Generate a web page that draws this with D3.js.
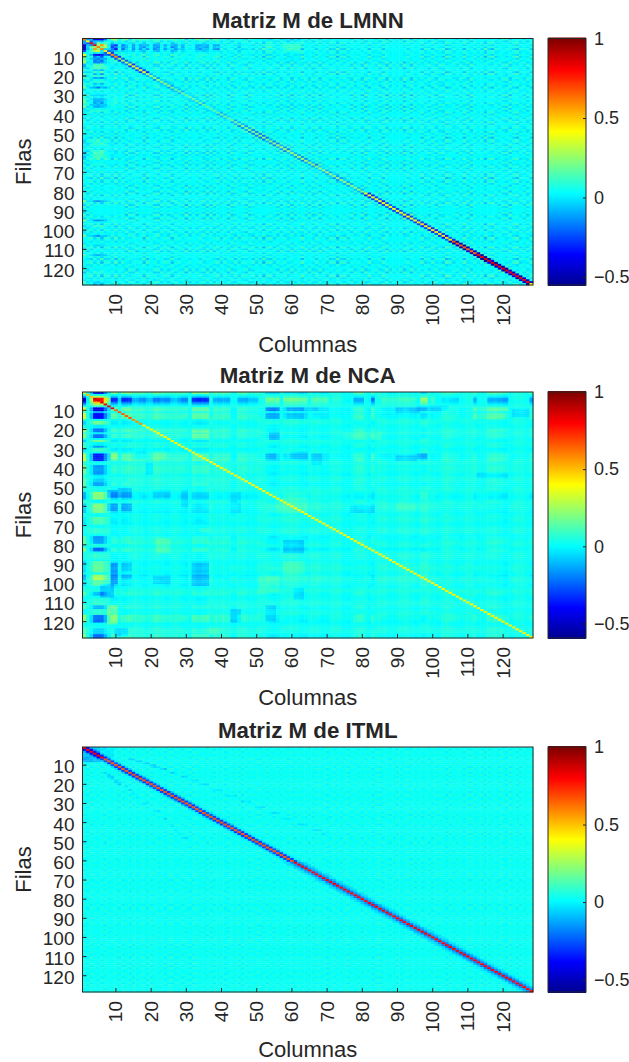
<!DOCTYPE html>
<html>
<head>
<meta charset="utf-8">
<script src="https://cdn.jsdelivr.net/npm/d3@7"></script>
<style>
	html, body { margin: 0; padding: 0; background: #fff; }
	svg { display: block; }
	text { font-family: "Liberation Sans", Arial, sans-serif; fill: #262626; }
</style>
</head>
<body>
<script>
// matrix is 128 x 128. diagonals, bands, weights, patches and streaks are rough estimates from the picture.
// the *Grain lists are hand typed texture: they copy the strength of the speckle, not the single cells.
const indices = d3.range(1, 129);
const axisTicks = [10, 20, 30, 40, 50, 60, 70, 80, 90, 100, 110, 120];
const colorTicks = [-0.5, 0, 0.5, 1];

// runs are [from, to, value]
const lmnnDiag = [[1,1,.62],[2,2,.42],[3,4,.85],[5,6,.62],[7,8,.45],[9,10,.6],[11,13,.28],[14,18,.38],[19,25,.24],[26,45,.18],[46,55,.22],[56,66,.26],[67,80,.24],[81,95,.4],[96,105,.46],[106,112,.66],[113,127,.84],[128,128,.42]];
const lmnnNear1 = [[1,18,-.26],[19,30,-.1],[31,45,-.08],[46,66,-.16],[67,80,-.1],[81,105,-.3],[106,128,-.5]];
const lmnnNear2 = [[46,66,.05],[81,128,.04]];
const lmnnRowWeight = [[1,1,-.6],[2,2,-.1],[3,3,.2],[4,6,.7],[7,7,.4],[9,9,-.55],[10,10,-.2],[11,13,-.25],[14,14,.1],[15,16,.15],[17,17,-.1],[18,18,.1],[19,19,-.1],[20,20,.1],[21,21,-.2],[23,23,.1],[24,24,-.1],[26,26,-.25],[27,27,.05],[30,30,-.1],[32,36,-.16],[38,38,.1],[53,56,.08],[59,63,.12],[66,66,.06],[85,85,-.2],[95,95,-.22],[98,98,.08],[103,103,-.2],[108,108,-.08],[113,113,-.16],[122,122,.06],[127,128,-.08]];
const lmnnColWeight = [[1,1,-.65],[2,2,-.1],[3,3,.15],[4,6,.7],[7,7,.35],[9,10,-.36],[12,12,-.25],[13,13,-.12],[15,15,-.22],[17,18,-.18],[19,19,-.1],[21,22,-.22],[24,24,-.15],[26,27,-.2],[29,29,-.15],[33,36,-.16],[38,39,-.15],[45,45,-.1],[53,54,.08],[58,62,.1]];
const lmnnRowGrain = [
	2,-1,3,-2,1,-3,2,1,-2,3,-1,2,-3,1,2,-2,
	1,-3,2,-1,3,1,-2,2,-1,-3,2,1,-2,3,-1,1,
	-2,2,1,-3,2,-1,3,-2,1,2,-3,1,-1,2,3,-2,
	1,-1,2,-3,1,3,-2,-1,2,1,-3,2,-1,1,3,-2,
	2,-3,1,2,-1,-2,3,1,-3,2,1,-1,3,-2,1,2,
	-3,2,-1,1,-3,2,3,-2,1,-1,2,-3,1,3,-2,1,
	2,-1,-3,2,1,-2,-3,3,1,-1,2,-2,3,1,-3,2,
	-1,1,-3,2,3,-2,1,-1,-3,2,1,3,-2,1,-3,2
];
const lmnnColGrain = [
	-2,3,1,-1,2,-3,1,2,-1,3,-2,1,2,-3,-1,3,
	1,-2,3,1,-1,-3,2,1,3,-2,-1,2,1,-3,3,-1,
	2,1,-3,2,-2,3,1,-1,2,-3,1,3,-2,1,-1,2,
	3,-2,1,-3,2,1,-1,3,-2,2,1,-3,2,-1,3,1,
	-2,1,3,-3,2,-1,1,2,-3,1,3,-2,-1,2,1,-3,
	2,3,-1,-2,1,3,-3,2,-1,1,-2,3,2,-3,1,-1,
	3,-2,1,2,-3,1,-1,3,2,-2,-1,1,3,-3,2,1,
	-1,2,-3,1,3,-1,-2,2,1,-3,2,3,-1,-2,1,2
];

const ncaDiag = [[1,1,.3],[2,3,.5],[4,9,.85],[10,14,.66],[15,17,.58],[18,128,.42]];
const ncaRowWeight = [[1,1,-.5],[3,3,.3],[4,5,.95],[6,6,.6],[7,7,.3],[8,8,.05],[9,10,-.55],[11,11,-.15],[12,14,-.5],[15,15,-.02],[16,17,.18],[18,19,-.05],[20,21,-.3],[22,22,-.05],[23,24,-.3],[26,26,.2],[27,28,-.05],[29,29,-.2],[30,31,.1],[33,36,-.45],[37,38,-.02],[39,43,-.22],[44,45,-.05],[46,47,-.12],[48,49,-.2],[53,56,.25],[57,58,-.03],[59,63,.2],[66,69,.12],[72,74,.05],[76,79,-.2],[80,81,.02],[82,83,-.3],[85,87,.05],[89,94,.15],[96,98,.28],[99,99,.1],[100,101,.15],[105,106,-.15],[108,111,.05],[112,113,-.15],[114,116,.05],[117,120,-.3],[124,126,-.12],[127,128,-.3]];
const ncaColWeight = [[1,1,-.55],[2,2,-.05],[3,3,.25],[4,6,.8],[7,7,.45],[8,8,.15],[9,10,-.36],[11,11,-.08],[12,14,-.36],[15,16,-.16],[17,18,-.2],[19,20,-.12],[21,22,-.25],[23,25,-.2],[26,27,-.12],[28,28,-.16],[29,30,-.2],[32,36,-.36],[38,42,-.16],[45,47,-.16],[48,50,-.1],[53,56,.16],[58,64,.14],[66,70,.1],[72,74,.03],[78,80,-.16],[83,83,-.24],[86,95,.06],[97,98,.2],[100,100,.08],[103,107,-.07],[112,112,-.15],[116,121,-.16],[128,128,-.16]];
// [rowFrom, rowTo, colFrom, colTo, value]
const ncaPatches = [
	[21,25,32,36,.06],[32,35,21,24,.05],[32,35,9,10,.09],[32,35,16,18,-.05],[38,43,19,20,-.06],
	[52,55,8,10,-.13],[51,55,11,14,-.1],[59,62,8,10,-.12],[59,62,12,14,-.1],[52,55,21,25,-.05],
	[52,60,29,30,-.05],[53,63,43,45,-.05],[22,25,54,56,-.08],[32,35,60,64,-.06],[33,35,53,55,-.06],
	[9,10,53,56,-.13],[9,10,59,63,-.1],[12,14,53,56,-.08],[12,14,59,63,-.06],[56,63,56,64,.04],
	[90,100,9,10,-.13],[101,107,6,9,-.1],[90,93,12,14,-.06],[96,97,12,14,-.06],[97,100,21,25,-.06],
	[90,101,32,36,-.06],[77,84,22,25,.06],[72,73,34,36,.05],[78,84,58,63,-.08],[114,120,43,45,-.08],
	[112,119,53,55,-.05],[112,121,8,10,.12],[124,127,10,13,-.09],[97,105,51,56,.04],[89,95,58,63,.04],
	[103,108,61,63,-.06],[124,126,37,39,.05],
	[9,11,90,96,-.06],[8,10,96,104,-.06],[9,10,112,121,.06],[12,14,112,120,.05],[10,13,123,127,-.05],
	[9,10,65,67,-.05],[22,25,75,85,.04],[34,36,90,95,-.06],[33,35,96,98,-.09],[33,38,66,68,-.06],
	[43,45,113,121,-.05],[60,63,77,83,-.05],[59,62,90,95,.03]
];
const ncaRowGrain = [
	1,1,0,0,-1,-1,0,1,-2,-2,-1,-2,-1,0,1,1,
	0,-1,-1,0,1,1,0,-1,-1,0,1,0,-1,-2,-1,0,
	-2,-2,-1,0,1,1,0,1,1,0,-1,-1,1,1,0,-1,
	-1,0,1,1,0,-1,-2,-1,0,1,1,2,1,0,-1,-1,
	0,1,1,0,-1,-1,0,1,1,0,-2,-2,-1,0,1,1,
	0,-2,-1,0,1,1,0,-1,-1,0,1,2,1,0,-1,-1,
	1,2,1,0,-1,-1,1,2,1,0,-1,-1,0,1,1,0,
	-1,-1,0,1,1,1,0,-1,-2,-1,0,1,1,0,-1,-1
];
const ncaColGrain = [
	2,2,1,2,2,1,1,1,1,2,2,1,1,2,2,1,
	1,2,1,1,2,2,1,2,2,1,1,2,2,1,1,2,
	1,1,2,2,2,1,1,2,1,1,2,2,1,2,2,1,
	1,2,2,1,1,2,2,1,2,2,1,1,2,1,1,2,
	2,1,2,2,1,1,2,1,2,2,1,2,1,1,2,2,
	1,2,1,1,2,2,2,1,1,2,2,1,1,2,2,2,
	1,1,2,1,2,2,1,1,2,2,1,2,2,1,1,2,
	2,1,1,2,2,1,2,2,1,1,2,2,1,1,1,2
];

const itmlDiag = [[1,6,.8],[7,60,.67],[61,128,.8]];
const itmlNear1 = [[1,60,-.3],[61,128,-.2]];
const itmlNear2 = [[1,60,-.06],[61,128,-.09]];
const itmlNear3 = [[61,128,-.04]];
const itmlPatches = [[1,8,1,5,-.1],[1,6,6,9,-.04],[6,8,1,3,-.03]];
// faint slanted streaks in the upper left part, [row, colFrom, colTo, value]
const itmlUpperStreak = [[7,14,15,-.07],[8,16,17,-.07],[9,18,19,-.07],[10,20,21,-.07],[11,21,22,-.07],[12,23,24,-.07],[14,26,27,-.06],[16,29,30,-.06],[18,32,33,-.06],[20,34,36,-.06],[23,38,40,-.05],[26,42,44,-.05],[29,46,48,-.05],[32,50,52,-.05],[35,54,56,-.05],[38,58,60,-.05],[41,62,64,-.05],[44,66,68,-.05],[46,69,70,-.05]];
const itmlLowerStreak = [[14,7,7,-.07],[15,8,8,-.07],[16,8,9,-.07],[17,9,9,-.07],[18,10,10,-.07],[19,10,11,-.07],[20,11,11,-.07],[21,13,13,-.06],[23,14,14,-.06],[25,15,15,-.06],[27,16,16,-.06],[30,18,19,-.05],[34,21,22,-.05],[38,24,24,-.05],[42,26,26,-.05],[44,27,27,-.05],[46,28,28,-.05],[48,29,30,-.05]];
const itmlRowGrain = [
	1,-1,1,0,-1,1,1,-1,0,1,-1,1,0,-1,1,-1,
	0,1,-1,1,1,-1,0,-1,1,1,-1,0,1,-1,-1,1,
	1,0,-1,1,-1,1,0,1,-1,-1,1,0,1,-1,1,-1,
	0,1,1,-1,1,0,-1,1,-1,0,1,1,-1,1,0,-1,
	1,-1,1,0,1,-1,-1,1,0,-1,1,1,-1,0,1,-1,
	1,0,-1,1,1,-1,0,1,-1,1,-1,0,1,1,-1,1,
	-1,0,1,-1,1,1,0,-1,1,-1,1,0,-1,1,1,-1,
	0,1,-1,1,0,-1,1,1,-1,1,0,-1,1,-1,1,0
];
const itmlColGrain = [
	-2,-2,2,1,-1,2,-2,1,2,-1,-2,2,1,-2,2,-1,
	2,1,-2,2,-1,1,2,-2,1,2,-1,-2,2,1,-2,2,
	-1,2,1,-2,2,2,-1,1,-2,2,1,-1,2,-2,1,2,
	2,-1,-2,1,2,-2,2,1,-1,2,-2,1,2,-1,2,1,
	-2,2,1,2,-1,-2,2,1,-2,2,-1,2,1,-2,1,2,
	-1,2,-2,1,2,2,-1,-2,1,2,-1,2,1,-2,2,-1,
	2,1,-2,2,1,-1,2,-2,2,1,-1,2,-2,1,2,-1,
	1,2,-2,2,-1,1,2,-1,-2,2,1,-2,2,1,-1,2
];

const jetStops = ['#00008f', '#0000ff', '#00ffff', '#80ff80', '#ffff00', '#ff0000', '#800000'];
const jetPlaces = [0, 0.125, 0.375, 0.5, 0.625, 0.875, 1];

// fills a 128 long list from runs
function expand(runs) {
	const out = new Array(129).fill(0);
	runs.forEach(([from, to, v]) => {
		for (let i = from; i <= to; i++) out[i] = v;
	});
	return out;
}

function buildMatrix(p) {
	const rw = expand(p.rowWeight || []);
	const cw = expand(p.colWeight || []);
	const diag = expand(p.diag);
	const near = [null, expand(p.near1 || []), expand(p.near2 || []), expand(p.near3 || [])];
	const cells = [];
	indices.forEach((r) => {
		indices.forEach((c) => {
			// the weights act fully only on the first rows and columns
			const reach = r <= 8 || c <= 8 ? 1 : p.crossDamp;
			let v = p.base + rw[r] * cw[c] * reach;
			v += (p.rowGrain[r - 1] * p.colGrain[c - 1] + p.rowGrain[c - 1] * p.colGrain[r - 1]) * p.grainScale;
			const d = Math.abs(r - c);
			if (d === 0) v = diag[r];
			else if (d <= 3) v += near[d][r];
			cells.push({ r, c, v });
		});
	});
	const at = (r, c) => cells[(r - 1) * 128 + (c - 1)];
	(p.patches || []).forEach(([r0, r1, c0, c1, v]) => {
		for (let r = r0; r <= r1; r++) {
			for (let c = c0; c <= c1; c++) {
				if (r !== c) at(r, c).v += v;
			}
		}
	});
	(p.streaks || []).forEach(([r, c0, c1, v]) => {
		for (let c = c0; c <= c1; c++) at(r, c).v += v;
	});
	return cells;
}

const panels = [
	{ title: 'Matriz M de LMNN', top: 38.5, bottom: 285, min: -0.55, titleY: 28, labelY: 352,
		base: 0.035, crossDamp: 0.5,
		diag: lmnnDiag, near1: lmnnNear1, near2: lmnnNear2, rowWeight: lmnnRowWeight, colWeight: lmnnColWeight,
		rowGrain: lmnnRowGrain, colGrain: lmnnColGrain, grainScale: 0.006 },
	{ title: 'Matriz M de NCA', top: 392, bottom: 638, min: -0.594, titleY: 383, labelY: 705,
		base: 0.03, crossDamp: 0.7,
		diag: ncaDiag, rowWeight: ncaRowWeight, colWeight: ncaColWeight, patches: ncaPatches,
		rowGrain: ncaRowGrain, colGrain: ncaColGrain, grainScale: 0.006 },
	{ title: 'Matriz M de ITML', top: 747, bottom: 992, min: -0.58, titleY: 738, labelY: 1057,
		base: 0.03, crossDamp: 1,
		diag: itmlDiag, near1: itmlNear1, near2: itmlNear2, near3: itmlNear3, patches: itmlPatches,
		streaks: itmlUpperStreak.concat(itmlLowerStreak),
		rowGrain: itmlRowGrain, colGrain: itmlColGrain, grainScale: 0.008 }
];

const svg = d3.select('body').append('svg').attr('width', 629).attr('height', 1062);
const left = 82.5, right = 533, barLeft = 548, barRight = 586;

panels.forEach((p) => {
	const x = d3.scaleBand().domain(indices).range([left, right]);
	const y = d3.scaleBand().domain(indices).range([p.top, p.bottom]);
	const toT = d3.scaleLinear().domain([p.min, 1]).range([0, 1]).clamp(true);
	const jet = d3.scaleLinear().domain(jetPlaces).range(jetStops);
	const color = (v) => jet(toT(v));
	const g = svg.append('g');

	g.append('g').selectAll('rect').data(buildMatrix(p)).join('rect')
		.attr('x', (d) => x(d.c))
		.attr('y', (d) => y(d.r))
		.attr('width', x.bandwidth() + 0.4)
		.attr('height', y.bandwidth() + 0.4)
		.attr('fill', (d) => color(d.v));

	g.append('rect')
		.attr('x', left).attr('y', p.top)
		.attr('width', right - left).attr('height', p.bottom - p.top)
		.attr('fill', 'none').attr('stroke', '#262626');

	const yAxis = g.append('g').attr('transform', `translate(${left},0)`)
		.call(d3.axisLeft(y).tickValues(axisTicks).tickSizeInner(-4).tickSizeOuter(0).tickPadding(8));
	const xAxis = g.append('g').attr('transform', `translate(0,${p.bottom})`)
		.call(d3.axisBottom(x).tickValues(axisTicks).tickSizeInner(-4).tickSizeOuter(0).tickPadding(8));
	[yAxis, xAxis].forEach((a) => {
		a.select('.domain').remove();
		a.selectAll('line').attr('stroke', '#262626');
		a.selectAll('text').style('font-size', '19px').attr('fill', '#262626');
		a.attr('font-family', null).attr('font-size', null);
	});
	yAxis.selectAll('text').attr('dy', '0.42em');
	xAxis.selectAll('text')
		.attr('transform', 'rotate(-90)')
		.attr('text-anchor', 'end')
		.attr('x', -9).attr('y', 0).attr('dy', '0.34em');

	g.append('text').text(p.title)
		.attr('x', (left + right) / 2).attr('y', p.titleY)
		.attr('text-anchor', 'middle')
		.style('font-size', '22.3px').style('font-weight', 'bold');
	g.append('text').text('Columnas')
		.attr('x', (left + right) / 2).attr('y', p.labelY)
		.attr('text-anchor', 'middle')
		.style('font-size', '22px');
	g.append('text').text('Filas')
		.attr('transform', `translate(31,${(p.top + p.bottom) / 2}) rotate(-90)`)
		.attr('text-anchor', 'middle')
		.style('font-size', '22px');

	// colorbar
	const barY = d3.scaleLinear().domain([p.min, 1]).range([p.bottom, p.top]);
	const levels = d3.range(256).map((i) => p.min + (1 - p.min) * i / 255);
	g.append('g').selectAll('rect').data(levels).join('rect')
		.attr('x', barLeft)
		.attr('y', (d) => barY(d) - 1)
		.attr('width', barRight - barLeft)
		.attr('height', 2)
		.attr('fill', color);
	g.append('rect')
		.attr('x', barLeft).attr('y', p.top)
		.attr('width', barRight - barLeft).attr('height', p.bottom - p.top)
		.attr('fill', 'none').attr('stroke', '#262626');
	const barAxis = g.append('g').attr('transform', `translate(${barRight},0)`)
		.call(d3.axisRight(barY).tickValues(colorTicks).tickFormat(d3.format('')).tickSizeInner(-3).tickSizeOuter(0).tickPadding(8));
	barAxis.select('.domain').remove();
	barAxis.selectAll('line').attr('stroke', '#262626');
	barAxis.selectAll('text').style('font-size', '18px').attr('fill', '#262626');
	barAxis.attr('font-family', null).attr('font-size', null);
});
</script>
</body>
</html>
